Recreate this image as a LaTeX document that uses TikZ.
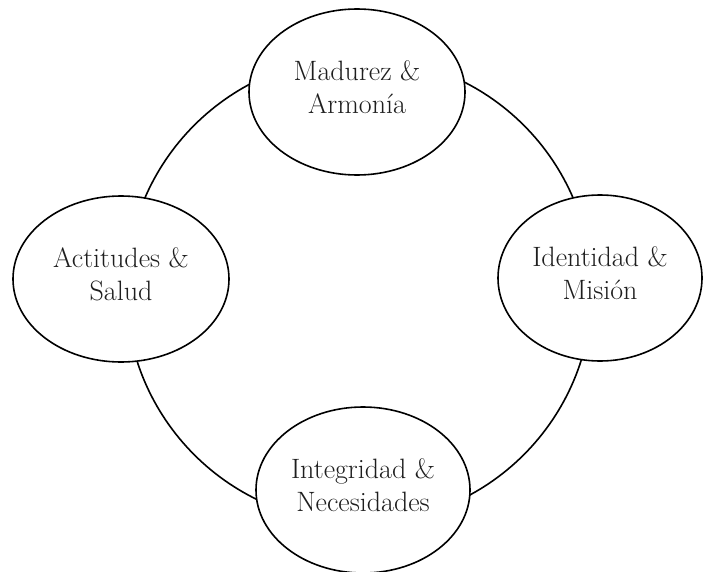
\documentclass[tikz,border=0pt]{standalone}
\usetikzlibrary{shapes.geometric}
\definecolor{inktext}{HTML}{1E1E1E}
\begin{document}
\begin{tikzpicture}[x=1pt,y=-1pt,
  ring/.style={circle, draw=black, line width=1.6pt, inner sep=0pt, minimum size=466pt},
  topic/.style={ellipse, draw=black, line width=1.6pt, fill=white, inner sep=0pt,
    minimum width=216pt, minimum height=166pt},
  caption/.style={align=center, text=inktext, inner sep=0pt,
    font=\fontsize{28}{33}\selectfont}]
  \useasboundingbox (0,0) rectangle (703,572);
  % cycle ring behind the four topics
  \node[ring] (cycle) at (359,290) {};
  % the four topics
  \node[topic] (madurez) at (357,92) {};
  \node[topic] (actitudes) at (121,279) {};
  \node[topic, minimum width=204pt] (identidad) at (600,278) {};
  \node[topic, minimum width=214pt] (integridad) at (363,490) {};
  % their captions, set a little above each centre
  \node[caption] (madurez-text) at ([yshift=5pt]madurez.center) {Madurez \&\\Armonía};
  \node[caption] (actitudes-text) at ([yshift=5pt]actitudes.center) {Actitudes \&\\Salud};
  \node[caption] (identidad-text) at ([yshift=5pt]identidad.center) {Identidad \&\\Misión};
  \node[caption] (integridad-text) at ([yshift=5pt]integridad.center) {Integridad \&\\Necesidades};
\end{tikzpicture}
\end{document}
